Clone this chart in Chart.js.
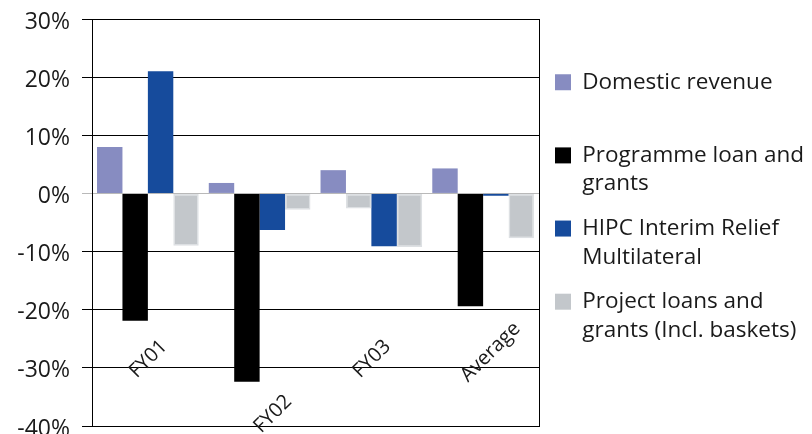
<!DOCTYPE html>
<html>
<head>
<meta charset="utf-8">
<script src="https://cdn.jsdelivr.net/npm/chart.js@4.4.1/dist/chart.umd.min.js"></script>
<style>
  html, body { margin: 0; padding: 0; background: #ffffff; }
  canvas { display: block; }
</style>
</head>
<body>
<canvas id="chart" width="812" height="434"></canvas>
<script>
// ---- data ----
const categories = ['FY01', 'FY02', 'FY03', 'Average'];
const seriesNames = [
  'Domestic revenue',
  'Programme loan and grants',
  'HIPC Interim Relief Multilateral',
  'Project loans and grants (Incl. baskets)'
];
const legendLines = [
  ['Domestic revenue', ''],
  ['Programme loan and', 'grants'],
  ['HIPC Interim Relief', 'Multilateral'],
  ['Project loans and', 'grants (Incl. baskets)']
];
const domesticRevenue = [8.0, 1.8, 4.0, 4.3];
const programmeLoans  = [-21.9, -32.4, -2.6, -19.4];
const hipcRelief      = [21.0, -6.3, -9.1, -0.4];
const projectLoans    = [-9.0, -2.8, -9.2, -7.7];
const yMin = -40, yMax = 30, yStep = 10;

// ---- styles ----
const cPurple = '#878cc1';
const cBlack  = '#000000';
const cBlue   = '#164b9c';
const cGray   = '#c3c7cb';
const cGrayBorder = '#dde0e3';
const seriesColors = [cPurple, cBlack, cBlue, cGray];
const FONT = '"Open Sans", "DejaVu Sans", sans-serif';

// label shaping for the staggered, rotated category labels
const EN = '\u2002';
function shapeLabel(name) {
  if (name === 'Average') return name;
  if (name === 'FY02') return ['', '', name + EN.repeat(5) + ' '];
  return name + EN + EN + ' ';
}

const ctx = document.getElementById('chart').getContext('2d');
new Chart(ctx, {
  type: 'bar',
  data: {
    labels: categories,
    datasets: [
      { label: seriesNames[0], data: domesticRevenue, backgroundColor: cPurple, borderWidth: 0 },
      { label: seriesNames[1], data: programmeLoans,
        backgroundColor: [cBlack, cBlack, cGray, cBlack],
        borderColor: [cBlack, cBlack, cGrayBorder, cBlack],
        borderWidth: [0, 0, 1.5, 0], borderSkipped: false },
      { label: seriesNames[2], data: hipcRelief, backgroundColor: cBlue, borderWidth: 0 },
      { label: seriesNames[3], data: projectLoans, backgroundColor: cGray,
        borderColor: cGrayBorder, borderWidth: 1.5, borderSkipped: false }
    ]
  },
  options: {
    responsive: false,
    animation: false,
    devicePixelRatio: 1,
    datasets: { bar: { categoryPercentage: 0.91, barPercentage: 1.0 } },
    layout: { padding: { top: 19, right: 0, bottom: 8, left: 0 } },
    plugins: {
      tooltip: { enabled: false },
      legend: {
        position: 'right',
        align: 'start',
        maxWidth: 273,
        title: { display: true, text: '', font: { size: 12, lineHeight: 1.2 }, padding: { top: 21.6, bottom: 0 } },
        labels: {
          boxWidth: 16,
          boxHeight: 16,
          padding: 16,
          color: '#1a1a1a',
          font: { family: FONT, size: 22.5, lineHeight: 1.27 },
          generateLabels(chart) {
            const items = Chart.defaults.plugins.legend.labels.generateLabels(chart);
            items.forEach(it => {
              const i = it.datasetIndex;
              it.text = legendLines[i];
              it.fillStyle = seriesColors[i];
              it.strokeStyle = seriesColors[i];
              it.lineWidth = 0;
            });
            return items;
          }
        }
      }
    },
    scales: {
      x: {
        position: { y: yMin },
        grid: {
          offset: true,
          drawTicks: false,
          lineWidth: 1,
          color: (c) => (c.type === 'scale' ? '#000000' : 'rgba(0,0,0,0)')
        },
        border: { display: true, color: '#000000', width: 1 },
        ticks: {
          autoSkip: false,
          minRotation: 45,
          maxRotation: 45,
          padding: -109,
          labelOffset: 34,
          color: '#1a1a1a',
          font: { family: FONT, size: 20, lineHeight: 1.2 },
          callback: function (value, index) { return shapeLabel(categories[index]); }
        },
        afterFit(scale) {
          scale.height = 0;
          scale.paddingLeft = 0;
          scale.paddingRight = 0;
        }
      },
      y: {
        min: yMin,
        max: yMax,
        grid: {
          tickLength: 10,
          lineWidth: 1,
          color: (c) => (c.tick && c.tick.value === 0 ? '#b9b9b9' : '#000000')
        },
        border: { display: true, color: '#000000', width: 1 },
        ticks: {
          stepSize: yStep,
          padding: 12,
          labelOffset: 3,
          color: '#1a1a1a',
          font: { family: FONT, size: 23 },
          callback: (v) => v + '%'
        },
        afterFit(scale) {
          scale.width = 92;
          scale.paddingTop = 0;
          scale.paddingBottom = 0;
        }
      }
    }
  }
});
</script>
</body>
</html>
